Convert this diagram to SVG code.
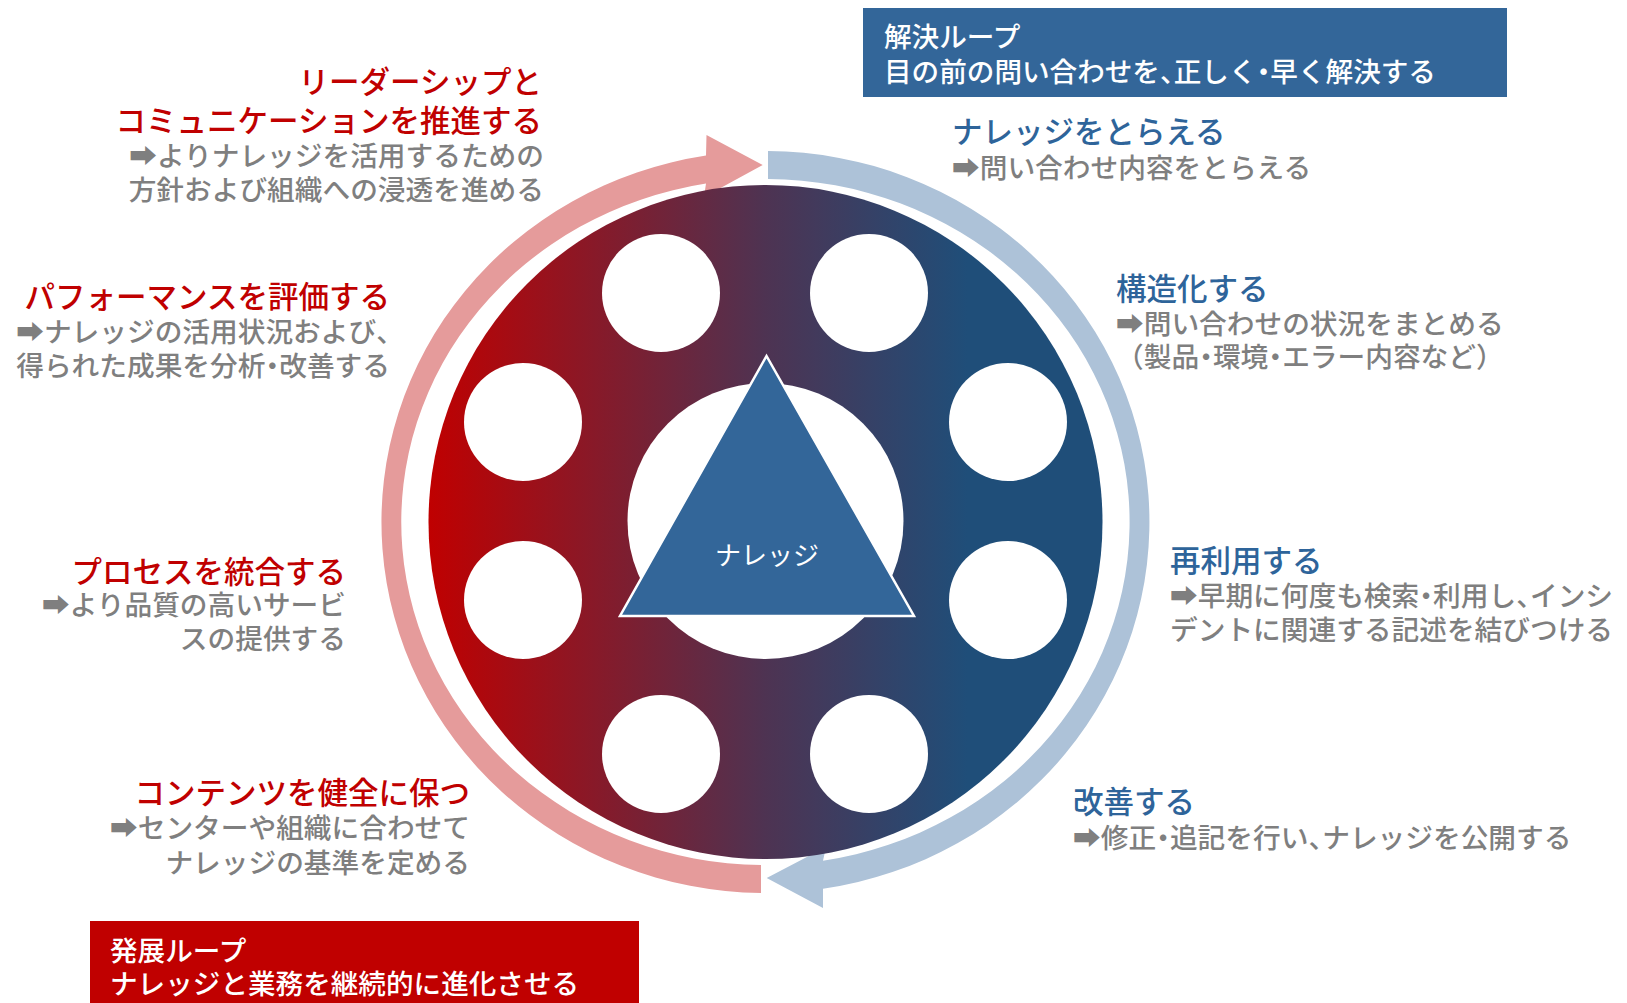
<svg xmlns="http://www.w3.org/2000/svg" width="1627" height="1003" viewBox="0 0 1627 1003">
<defs>
<linearGradient id="ringGrad" x1="428" y1="0" x2="1102" y2="0" gradientUnits="userSpaceOnUse">
<stop offset="0" stop-color="#c00000"/>
<stop offset="0.5" stop-color="#4e3352"/>
<stop offset="0.8" stop-color="#1f4e79"/>
<stop offset="1" stop-color="#1f4e79"/>
</linearGradient>
<style>
text{font-family:"Noto Sans CJK JP","Noto Sans CJK SC",sans-serif;font-weight:500;}
.hr{fill:#c00000;font-size:30.5px;}
.hb{fill:#2e649a;font-size:30.5px;}
.bd{fill:#7f7f7f;font-size:27.7px;}
.bx{fill:#ffffff;font-size:27.6px;}
.h{font-feature-settings:"halt";}
.hole{fill:#ffffff;}
.l{text-anchor:end;}
</style>
</defs>
<rect width="1627" height="1003" fill="#ffffff"/>

<g id="connectors">
<path id="loop-develop" fill="#e59b9b" d="M761,893 A384,371 0 0 1 706,155.5 L706.5,135 L762.7,165 L704,197 L706,183.6 A364,343 0 0 0 761,865 Z"/>
<path id="loop-solve" fill="#adc2d8" d="M768,151 A384,371 0 0 1 823,888.8 L823,908 L766.7,878 L826,847 L823,860.7 A364,343 0 0 0 768,179 Z"/>
</g>

<g id="wheel">
<circle cx="765.5" cy="522" r="337" fill="url(#ringGrad)"/>
<circle class="hole" cx="661" cy="293" r="59"/>
<circle class="hole" cx="869" cy="293" r="59"/>
<circle class="hole" cx="523" cy="422" r="59"/>
<circle class="hole" cx="1008" cy="422" r="59"/>
<circle class="hole" cx="523" cy="600" r="59"/>
<circle class="hole" cx="1008" cy="600" r="59"/>
<circle class="hole" cx="661" cy="754" r="59"/>
<circle class="hole" cx="869" cy="754" r="59"/>
<circle class="hole" cx="765.5" cy="521" r="138"/>
</g>

<g id="knowledge">
<polygon points="766.5,356 620,616 914,616" fill="#336699" stroke="#ffffff" stroke-width="2.5"/>
<text x="767" y="565" fill="#ffffff" font-size="26" text-anchor="middle" style="font-weight:400">ナレッジ</text>
</g>

<g id="solve-loop-box">
<rect x="863" y="8" width="644" height="89" fill="#336699"/>
<text class="bx" x="884" y="47">解決ループ</text>
<text class="bx" x="884" y="82">目の前の問い合わせを<tspan class="h">、</tspan>正しく<tspan class="h">・</tspan>早く解決する</text>
</g>

<g id="develop-loop-box">
<rect x="90" y="921" width="549" height="82" fill="#c00000"/>
<text class="bx" x="110" y="961">発展ループ</text>
<text class="bx" x="110" y="994">ナレッジと業務を継続的に進化させる</text>
</g>

<g id="step-capture">
<text class="hb" x="952" y="143">ナレッジをとらえる</text>
<text class="bd" x="952" y="178">➡問い合わせ内容をとらえる</text>
</g>

<g id="step-structure">
<text class="hb" x="1116" y="300">構造化する</text>
<text class="bd" x="1116" y="334">➡問い合わせの状況をまとめる</text>
<text class="bd" x="1116" y="367">（製品<tspan class="h">・</tspan>環境<tspan class="h">・</tspan>エラー内容など）</text>
</g>

<g id="step-reuse">
<text class="hb" x="1170" y="572">再利用する</text>
<text class="bd" x="1170" y="606">➡早期に何度も検索<tspan class="h">・</tspan>利用し<tspan class="h">、</tspan>インシ</text>
<text class="bd" x="1170" y="640">デントに関連する記述を結びつける</text>
</g>

<g id="step-improve">
<text class="hb" x="1073" y="813">改善する</text>
<text class="bd" x="1073" y="848">➡修正<tspan class="h">・</tspan>追記を行い<tspan class="h">、</tspan>ナレッジを公開する</text>
</g>

<g id="step-leadership">
<text class="hr l" x="542" y="93">リーダーシップと</text>
<text class="hr l" x="542" y="132">コミュニケーションを推進する</text>
<text class="bd l" x="544" y="166">➡よりナレッジを活用するための</text>
<text class="bd l" x="544" y="200">方針および組織への浸透を進める</text>
</g>

<g id="step-performance">
<text class="hr l" x="390" y="308">パフォーマンスを評価する</text>
<text class="bd l" x="390" y="342">➡ナレッジの活用状況および<tspan class="h">、</tspan></text>
<text class="bd l" x="390" y="376">得られた成果を分析<tspan class="h">・</tspan>改善する</text>
</g>

<g id="step-process">
<text class="hr l" x="346" y="583">プロセスを統合する</text>
<text class="bd l" x="346" y="615">➡より品質の高いサービ</text>
<text class="bd l" x="346" y="649">スの提供する</text>
</g>

<g id="step-contents">
<text class="hr l" x="470" y="804">コンテンツを健全に保つ</text>
<text class="bd l" x="470" y="838">➡センターや組織に合わせて</text>
<text class="bd l" x="470" y="873">ナレッジの基準を定める</text>
</g>
</svg>
